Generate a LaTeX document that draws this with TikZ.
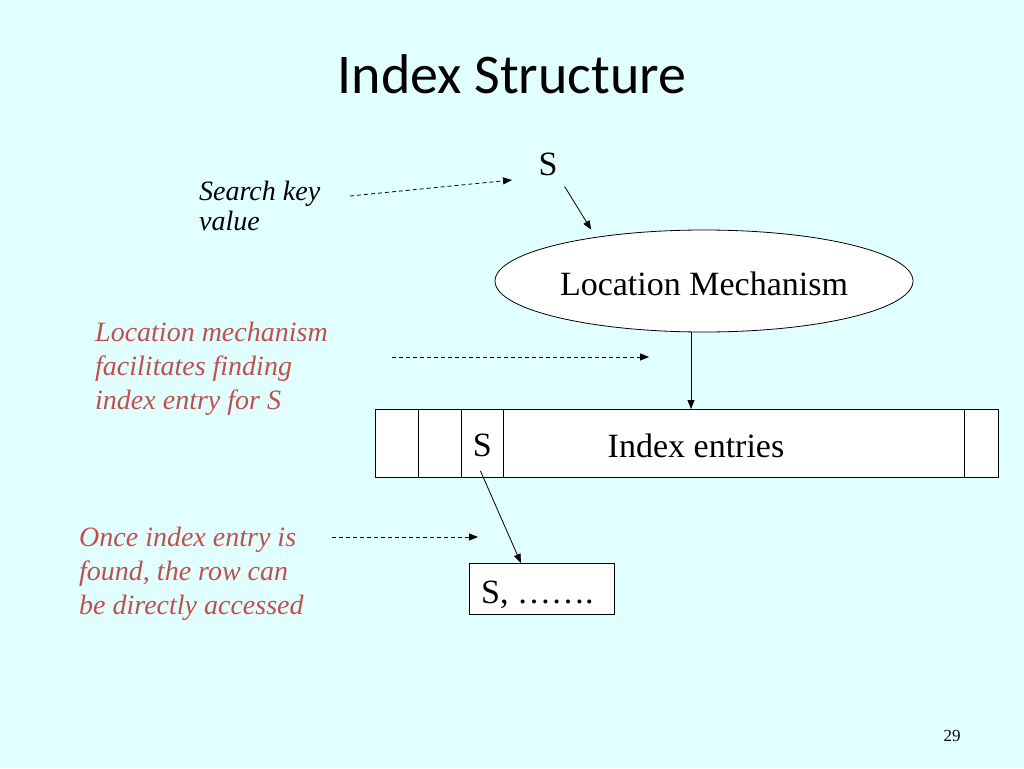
\documentclass[tikz,border=0pt]{standalone}
\usepackage{fontspec}
\setmainfont{Liberation Serif}
\newfontfamily\titlefont{Carlito}
\usetikzlibrary{shapes.geometric,arrows.meta,calc}
\definecolor{bg}{HTML}{E1FFFF}
\definecolor{notecol}{HTML}{C0504D}
\begin{document}
\begin{tikzpicture}[x=1pt,y=-1pt,
  arr/.style={-{Triangle[length=9pt,width=7pt]}, line width=0.8pt},
  dsh/.style={arr, dash pattern=on 4pt off 3pt},
  box/.style={draw, line width=0.8pt, fill=white, inner sep=0pt},
  big/.style={font=\fontsize{34}{40}\selectfont, inner sep=0pt},
  note/.style={font=\fontsize{28}{34}\selectfont\itshape, text=notecol, align=left, inner sep=0pt},
]
\fill[bg] (0,0) rectangle (1024,768);
\useasboundingbox (0,0) rectangle (1024,768);

\node[font=\titlefont\fontsize{56}{60}\selectfont, anchor=base, inner sep=0pt] (title) at (512,93) {Index Structure};

% search key
\node[big, anchor=base] (sTop) at (548,175) {S};
\node[note, text=black, font=\fontsize{28}{30}\selectfont\itshape, anchor=base west] (skv) at (199,230) {Search key\\value};
\coordinate (d1a) at (350,196);
\coordinate (d1b) at (512,180);
\draw[dsh] (d1a) -- (d1b);

% location mechanism
\node[ellipse, draw, fill=white, line width=0.8pt, minimum width=418pt, minimum height=102pt, big, text height=29pt, text depth=0pt] (ell) at (704,281) {Location Mechanism};
\draw[arr] ([xshift=7pt,yshift=-11pt]sTop.south east) -- ([yshift=8pt]ell.159.5);

\node[note, anchor=base west] (n1) at (95,409) {Location mechanism\\facilitates finding\\index entry for S};
\coordinate (d2a) at (392,357);
\coordinate (d2b) at (649,357);
\draw[dsh] (d2a) -- (d2b);

% index entries
\node[box, minimum width=43pt, minimum height=68pt, anchor=north west] (c1) at (375,409) {};
\node[box, minimum width=43pt, minimum height=68pt, anchor=north west] (c2) at (418,409) {};
\node[box, minimum width=42pt, minimum height=68pt, anchor=north west, font=\fontsize{34}{40}\selectfont, text height=27pt, text depth=0pt] (cS) at (461,409) {S};
\node[box, minimum width=461pt, minimum height=68pt, anchor=north west] (ent) at (503,409) {};
\node[box, minimum width=34pt, minimum height=68pt, anchor=north west] (cL) at (964,409) {};
\node[big] (ietxt) at (696,446) {Index entries};
\draw[arr] ([xshift=-13pt]ell.south) -- ([xshift=-13pt]ell.south |- ent.north);

% row
\node[box, minimum width=145pt, minimum height=51pt, anchor=north west] (row) at (469,563) {};
\node[big, anchor=base west] (rowtxt) at (481,603) {S, …….};
\draw[arr] ([xshift=-2pt,yshift=7pt]cS.south) -- ([xshift=-21pt]row.north);

\node[note, anchor=base west] (n2) at (79,614) {Once index entry is\\found, the row can\\be directly accessed};
\coordinate (d3a) at (332,537);
\coordinate (d3b) at (478,537);
\draw[dsh] (d3a) -- (d3b);

\node[font=\fontsize{17}{20}\selectfont, anchor=base, inner sep=0pt] (pg) at (952,741) {29};
\end{tikzpicture}
\end{document}
